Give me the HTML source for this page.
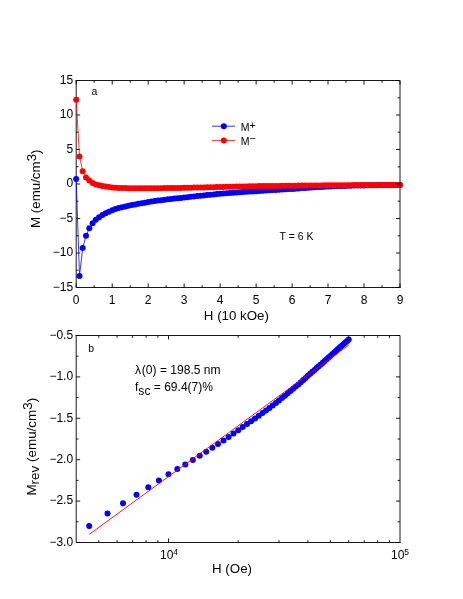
<!DOCTYPE html>
<html><head><meta charset="utf-8"><title>M vs H</title>
<style>
html,body{margin:0;padding:0;background:#fff;}
svg{display:block;will-change:transform;font-family:"Liberation Sans",sans-serif;fill:#000;}
.axl{fill:none;stroke:#000;stroke-width:0.9;}
.tk{font-size:12px;}
.ax{font-size:13.33px;}
.an{font-size:12.05px;}
.lg{font-size:10.5px;}
.sm{font-size:10.4px;}
</style></head><body>
<svg width="463" height="599" viewBox="0 0 463 599">
<rect width="463" height="599" fill="#fff"/>
<!-- panel a -->
<path d="M76.2 80.0V287.5H400.5M76.2 287.5v-4.0M94.2 287.5v-2.3M112.2 287.5v-4.0M130.2 287.5v-2.3M148.2 287.5v-4.0M166.1 287.5v-2.3M184.1 287.5v-4.0M202.1 287.5v-2.3M220.1 287.5v-4.0M238.1 287.5v-2.3M256.1 287.5v-4.0M274.1 287.5v-2.3M292.1 287.5v-4.0M310.1 287.5v-2.3M328.0 287.5v-4.0M346.0 287.5v-2.3M364.0 287.5v-4.0M382.0 287.5v-2.3M400.0 287.5v-4.0M76.2 80.5h4.0M76.2 97.8h2.3M76.2 115.0h4.0M76.2 132.2h2.3M76.2 149.5h4.0M76.2 166.8h2.3M76.2 184.0h4.0M76.2 201.2h2.3M76.2 218.5h4.0M76.2 235.8h2.3M76.2 253.0h4.0M76.2 270.2h2.3M76.2 287.5h4.0" class="axl"/>
<polyline points="76.2,179.0 79.5,275.9 82.7,248.1 86.0,235.8 89.3,228.3 92.6,223.2 95.8,219.8 99.1,217.2 102.4,215.1 105.6,213.3 108.9,211.7 112.2,210.3 115.4,209.1 118.7,208.1 122.0,207.2 125.3,206.4 128.5,205.7 131.8,205.1 135.1,204.4 138.3,203.8 141.6,203.2 144.9,202.7 148.2,202.1 151.4,201.6 154.7,201.1 158.0,200.6 161.2,200.2 164.5,199.8 167.8,199.3 171.1,199.0 174.3,198.6 177.6,198.2 180.9,197.9 184.1,197.5 187.4,197.2 190.7,196.8 193.9,196.5 197.2,196.1 200.5,195.8 203.8,195.4 207.0,195.1 210.3,194.7 213.6,194.4 216.8,194.0 220.1,193.7 223.4,193.4 226.7,193.2 229.9,193.0 233.2,192.7 236.5,192.5 239.7,192.3 243.0,192.1 246.3,191.8 249.5,191.6 252.8,191.4 256.1,191.2 259.4,191.0 262.6,190.8 265.9,190.5 269.2,190.3 272.4,190.1 275.7,189.9 279.0,189.7 282.3,189.5 285.5,189.3 288.8,189.1 292.1,188.9 295.3,188.7 298.6,188.4 301.9,188.1 305.1,187.9 308.4,187.7 311.7,187.4 315.0,187.2 318.2,187.0 321.5,186.9 324.8,186.7 328.0,186.6 331.3,186.4 334.6,186.3 337.9,186.1 341.1,186.0 344.4,185.9 347.7,185.8 350.9,185.7 354.2,185.6 357.5,185.5 360.8,185.4 364.0,185.4 367.3,185.3 370.6,185.3 373.8,185.2 377.1,185.2 380.4,185.1 383.6,185.1 386.9,185.1 390.2,185.0 393.5,185.0 396.7,185.0 400.0,185.0" fill="none" stroke="#0000ff" stroke-width="0.8"/>
<g fill="#0000ff"><circle cx="76.2" cy="179.0" r="3"/><circle cx="79.5" cy="275.9" r="3"/><circle cx="82.7" cy="248.1" r="3"/><circle cx="86.0" cy="235.8" r="3"/><circle cx="89.3" cy="228.3" r="3"/><circle cx="92.6" cy="223.2" r="3"/><circle cx="95.8" cy="219.8" r="3"/><circle cx="99.1" cy="217.2" r="3"/><circle cx="102.4" cy="215.1" r="3"/><circle cx="105.6" cy="213.3" r="3"/><circle cx="108.9" cy="211.7" r="3"/><circle cx="112.2" cy="210.3" r="3"/><circle cx="115.4" cy="209.1" r="3"/><circle cx="118.7" cy="208.1" r="3"/><circle cx="122.0" cy="207.2" r="3"/><circle cx="125.3" cy="206.4" r="3"/><circle cx="128.5" cy="205.7" r="3"/><circle cx="131.8" cy="205.1" r="3"/><circle cx="135.1" cy="204.4" r="3"/><circle cx="138.3" cy="203.8" r="3"/><circle cx="141.6" cy="203.2" r="3"/><circle cx="144.9" cy="202.7" r="3"/><circle cx="148.2" cy="202.1" r="3"/><circle cx="151.4" cy="201.6" r="3"/><circle cx="154.7" cy="201.1" r="3"/><circle cx="158.0" cy="200.6" r="3"/><circle cx="161.2" cy="200.2" r="3"/><circle cx="164.5" cy="199.8" r="3"/><circle cx="167.8" cy="199.3" r="3"/><circle cx="171.1" cy="199.0" r="3"/><circle cx="174.3" cy="198.6" r="3"/><circle cx="177.6" cy="198.2" r="3"/><circle cx="180.9" cy="197.9" r="3"/><circle cx="184.1" cy="197.5" r="3"/><circle cx="187.4" cy="197.2" r="3"/><circle cx="190.7" cy="196.8" r="3"/><circle cx="193.9" cy="196.5" r="3"/><circle cx="197.2" cy="196.1" r="3"/><circle cx="200.5" cy="195.8" r="3"/><circle cx="203.8" cy="195.4" r="3"/><circle cx="207.0" cy="195.1" r="3"/><circle cx="210.3" cy="194.7" r="3"/><circle cx="213.6" cy="194.4" r="3"/><circle cx="216.8" cy="194.0" r="3"/><circle cx="220.1" cy="193.7" r="3"/><circle cx="223.4" cy="193.4" r="3"/><circle cx="226.7" cy="193.2" r="3"/><circle cx="229.9" cy="193.0" r="3"/><circle cx="233.2" cy="192.7" r="3"/><circle cx="236.5" cy="192.5" r="3"/><circle cx="239.7" cy="192.3" r="3"/><circle cx="243.0" cy="192.1" r="3"/><circle cx="246.3" cy="191.8" r="3"/><circle cx="249.5" cy="191.6" r="3"/><circle cx="252.8" cy="191.4" r="3"/><circle cx="256.1" cy="191.2" r="3"/><circle cx="259.4" cy="191.0" r="3"/><circle cx="262.6" cy="190.8" r="3"/><circle cx="265.9" cy="190.5" r="3"/><circle cx="269.2" cy="190.3" r="3"/><circle cx="272.4" cy="190.1" r="3"/><circle cx="275.7" cy="189.9" r="3"/><circle cx="279.0" cy="189.7" r="3"/><circle cx="282.3" cy="189.5" r="3"/><circle cx="285.5" cy="189.3" r="3"/><circle cx="288.8" cy="189.1" r="3"/><circle cx="292.1" cy="188.9" r="3"/><circle cx="295.3" cy="188.7" r="3"/><circle cx="298.6" cy="188.4" r="3"/><circle cx="301.9" cy="188.1" r="3"/><circle cx="305.1" cy="187.9" r="3"/><circle cx="308.4" cy="187.7" r="3"/><circle cx="311.7" cy="187.4" r="3"/><circle cx="315.0" cy="187.2" r="3"/><circle cx="318.2" cy="187.0" r="3"/><circle cx="321.5" cy="186.9" r="3"/><circle cx="324.8" cy="186.7" r="3"/><circle cx="328.0" cy="186.6" r="3"/><circle cx="331.3" cy="186.4" r="3"/><circle cx="334.6" cy="186.3" r="3"/><circle cx="337.9" cy="186.1" r="3"/><circle cx="341.1" cy="186.0" r="3"/><circle cx="344.4" cy="185.9" r="3"/><circle cx="347.7" cy="185.8" r="3"/><circle cx="350.9" cy="185.7" r="3"/><circle cx="354.2" cy="185.6" r="3"/><circle cx="357.5" cy="185.5" r="3"/><circle cx="360.8" cy="185.4" r="3"/><circle cx="364.0" cy="185.4" r="3"/><circle cx="367.3" cy="185.3" r="3"/><circle cx="370.6" cy="185.3" r="3"/><circle cx="373.8" cy="185.2" r="3"/><circle cx="377.1" cy="185.2" r="3"/><circle cx="380.4" cy="185.1" r="3"/><circle cx="383.6" cy="185.1" r="3"/><circle cx="386.9" cy="185.1" r="3"/><circle cx="390.2" cy="185.0" r="3"/><circle cx="393.5" cy="185.0" r="3"/><circle cx="396.7" cy="185.0" r="3"/><circle cx="400.0" cy="185.0" r="3"/></g>
<polyline points="76.2,99.8 79.5,156.4 82.7,171.2 86.0,177.4 89.3,180.6 92.6,183.0 95.8,184.4 99.1,185.3 102.4,186.0 105.6,186.5 108.9,187.0 112.2,187.4 115.4,187.7 118.7,187.9 122.0,188.0 125.3,188.1 128.5,188.2 131.8,188.2 135.1,188.2 138.3,188.2 141.6,188.2 144.9,188.2 148.2,188.2 151.4,188.2 154.7,188.2 158.0,188.2 161.2,188.2 164.5,188.1 167.8,188.1 171.1,188.1 174.3,188.0 177.6,188.0 180.9,187.9 184.1,187.8 187.4,187.8 190.7,187.7 193.9,187.6 197.2,187.5 200.5,187.5 203.8,187.4 207.0,187.3 210.3,187.2 213.6,187.2 216.8,187.1 220.1,187.0 223.4,186.9 226.7,186.8 229.9,186.8 233.2,186.7 236.5,186.6 239.7,186.5 243.0,186.4 246.3,186.4 249.5,186.3 252.8,186.2 256.1,186.2 259.4,186.1 262.6,186.1 265.9,186.0 269.2,186.0 272.4,186.0 275.7,185.9 279.0,185.9 282.3,185.8 285.5,185.8 288.8,185.8 292.1,185.7 295.3,185.7 298.6,185.6 301.9,185.6 305.1,185.5 308.4,185.5 311.7,185.5 315.0,185.4 318.2,185.4 321.5,185.4 324.8,185.3 328.0,185.3 331.3,185.3 334.6,185.3 337.9,185.2 341.1,185.2 344.4,185.2 347.7,185.2 350.9,185.2 354.2,185.1 357.5,185.1 360.8,185.1 364.0,185.1 367.3,185.1 370.6,185.1 373.8,185.0 377.1,185.0 380.4,185.0 383.6,185.0 386.9,185.0 390.2,184.9 393.5,184.9 396.7,184.9 400.0,184.9" fill="none" stroke="#ff0000" stroke-width="0.8"/>
<g fill="#ff0000"><circle cx="76.2" cy="99.8" r="3"/><circle cx="79.5" cy="156.4" r="3"/><circle cx="82.7" cy="171.2" r="3"/><circle cx="86.0" cy="177.4" r="3"/><circle cx="89.3" cy="180.6" r="3"/><circle cx="92.6" cy="183.0" r="3"/><circle cx="95.8" cy="184.4" r="3"/><circle cx="99.1" cy="185.3" r="3"/><circle cx="102.4" cy="186.0" r="3"/><circle cx="105.6" cy="186.5" r="3"/><circle cx="108.9" cy="187.0" r="3"/><circle cx="112.2" cy="187.4" r="3"/><circle cx="115.4" cy="187.7" r="3"/><circle cx="118.7" cy="187.9" r="3"/><circle cx="122.0" cy="188.0" r="3"/><circle cx="125.3" cy="188.1" r="3"/><circle cx="128.5" cy="188.2" r="3"/><circle cx="131.8" cy="188.2" r="3"/><circle cx="135.1" cy="188.2" r="3"/><circle cx="138.3" cy="188.2" r="3"/><circle cx="141.6" cy="188.2" r="3"/><circle cx="144.9" cy="188.2" r="3"/><circle cx="148.2" cy="188.2" r="3"/><circle cx="151.4" cy="188.2" r="3"/><circle cx="154.7" cy="188.2" r="3"/><circle cx="158.0" cy="188.2" r="3"/><circle cx="161.2" cy="188.2" r="3"/><circle cx="164.5" cy="188.1" r="3"/><circle cx="167.8" cy="188.1" r="3"/><circle cx="171.1" cy="188.1" r="3"/><circle cx="174.3" cy="188.0" r="3"/><circle cx="177.6" cy="188.0" r="3"/><circle cx="180.9" cy="187.9" r="3"/><circle cx="184.1" cy="187.8" r="3"/><circle cx="187.4" cy="187.8" r="3"/><circle cx="190.7" cy="187.7" r="3"/><circle cx="193.9" cy="187.6" r="3"/><circle cx="197.2" cy="187.5" r="3"/><circle cx="200.5" cy="187.5" r="3"/><circle cx="203.8" cy="187.4" r="3"/><circle cx="207.0" cy="187.3" r="3"/><circle cx="210.3" cy="187.2" r="3"/><circle cx="213.6" cy="187.2" r="3"/><circle cx="216.8" cy="187.1" r="3"/><circle cx="220.1" cy="187.0" r="3"/><circle cx="223.4" cy="186.9" r="3"/><circle cx="226.7" cy="186.8" r="3"/><circle cx="229.9" cy="186.8" r="3"/><circle cx="233.2" cy="186.7" r="3"/><circle cx="236.5" cy="186.6" r="3"/><circle cx="239.7" cy="186.5" r="3"/><circle cx="243.0" cy="186.4" r="3"/><circle cx="246.3" cy="186.4" r="3"/><circle cx="249.5" cy="186.3" r="3"/><circle cx="252.8" cy="186.2" r="3"/><circle cx="256.1" cy="186.2" r="3"/><circle cx="259.4" cy="186.1" r="3"/><circle cx="262.6" cy="186.1" r="3"/><circle cx="265.9" cy="186.0" r="3"/><circle cx="269.2" cy="186.0" r="3"/><circle cx="272.4" cy="186.0" r="3"/><circle cx="275.7" cy="185.9" r="3"/><circle cx="279.0" cy="185.9" r="3"/><circle cx="282.3" cy="185.8" r="3"/><circle cx="285.5" cy="185.8" r="3"/><circle cx="288.8" cy="185.8" r="3"/><circle cx="292.1" cy="185.7" r="3"/><circle cx="295.3" cy="185.7" r="3"/><circle cx="298.6" cy="185.6" r="3"/><circle cx="301.9" cy="185.6" r="3"/><circle cx="305.1" cy="185.5" r="3"/><circle cx="308.4" cy="185.5" r="3"/><circle cx="311.7" cy="185.5" r="3"/><circle cx="315.0" cy="185.4" r="3"/><circle cx="318.2" cy="185.4" r="3"/><circle cx="321.5" cy="185.4" r="3"/><circle cx="324.8" cy="185.3" r="3"/><circle cx="328.0" cy="185.3" r="3"/><circle cx="331.3" cy="185.3" r="3"/><circle cx="334.6" cy="185.3" r="3"/><circle cx="337.9" cy="185.2" r="3"/><circle cx="341.1" cy="185.2" r="3"/><circle cx="344.4" cy="185.2" r="3"/><circle cx="347.7" cy="185.2" r="3"/><circle cx="350.9" cy="185.2" r="3"/><circle cx="354.2" cy="185.1" r="3"/><circle cx="357.5" cy="185.1" r="3"/><circle cx="360.8" cy="185.1" r="3"/><circle cx="364.0" cy="185.1" r="3"/><circle cx="367.3" cy="185.1" r="3"/><circle cx="370.6" cy="185.1" r="3"/><circle cx="373.8" cy="185.0" r="3"/><circle cx="377.1" cy="185.0" r="3"/><circle cx="380.4" cy="185.0" r="3"/><circle cx="383.6" cy="185.0" r="3"/><circle cx="386.9" cy="185.0" r="3"/><circle cx="390.2" cy="184.9" r="3"/><circle cx="393.5" cy="184.9" r="3"/><circle cx="396.7" cy="184.9" r="3"/><circle cx="400.0" cy="184.9" r="3"/></g>
<path d="M75.7 80.5H400.0V288.0M76.2 80.5v4.0M94.2 80.5v2.3M112.2 80.5v4.0M130.2 80.5v2.3M148.2 80.5v4.0M166.1 80.5v2.3M184.1 80.5v4.0M202.1 80.5v2.3M220.1 80.5v4.0M238.1 80.5v2.3M256.1 80.5v4.0M274.1 80.5v2.3M292.1 80.5v4.0M310.1 80.5v2.3M328.0 80.5v4.0M346.0 80.5v2.3M364.0 80.5v4.0M382.0 80.5v2.3M400.0 80.5v4.0M400.0 80.5h-4.0M400.0 97.8h-2.3M400.0 115.0h-4.0M400.0 132.2h-2.3M400.0 149.5h-4.0M400.0 166.8h-2.3M400.0 184.0h-4.0M400.0 201.2h-2.3M400.0 218.5h-4.0M400.0 235.8h-2.3M400.0 253.0h-4.0M400.0 270.2h-2.3M400.0 287.5h-4.0" class="axl"/>
<g class="tk" text-anchor="middle"><text x="76.2" y="303.9">0</text><text x="112.2" y="303.9">1</text><text x="148.2" y="303.9">2</text><text x="184.1" y="303.9">3</text><text x="220.1" y="303.9">4</text><text x="256.1" y="303.9">5</text><text x="292.1" y="303.9">6</text><text x="328.0" y="303.9">7</text><text x="364.0" y="303.9">8</text><text x="400.0" y="303.9">9</text></g>
<g class="tk" text-anchor="end"><text x="73.1" y="83.8">15</text><text x="73.1" y="118.3">10</text><text x="73.1" y="152.8">5</text><text x="73.1" y="187.3">0</text><text x="73.1" y="221.8">−5</text><text x="73.1" y="256.3">−10</text><text x="73.1" y="290.8">−15</text></g>
<text class="ax" text-anchor="middle" x="236.4" y="320">H (10 kOe)</text>
<text class="ax" transform="translate(40.2 228) rotate(-90)">M (emu/cm<tspan dy="-4">3</tspan><tspan dy="4">)</tspan></text>
<text class="sm" x="91.5" y="94.8">a</text>
<line x1="212" y1="126.2" x2="235" y2="126.2" stroke="#0000ff" stroke-width="0.8"/><circle cx="223.8" cy="126.2" r="3" fill="#0000ff"/>
<line x1="212" y1="140.6" x2="235" y2="140.6" stroke="#ff0000" stroke-width="0.8"/><circle cx="223.8" cy="140.6" r="3" fill="#ff0000"/>
<text class="lg" x="240.8" y="130.7">M<tspan dy="-1.8">+</tspan></text>
<text class="lg" x="240.8" y="145.1">M<tspan dy="-3.5">−</tspan></text>
<text class="lg" x="279.5" y="239.9">T = 6 K</text>
<!-- panel b -->
<path d="M76.2 335.0V542.5H400.5M76.2 335.5h4.0M76.2 356.2h2.3M76.2 376.9h4.0M76.2 397.6h2.3M76.2 418.3h4.0M76.2 439.0h2.3M76.2 459.7h4.0M76.2 480.4h2.3M76.2 501.1h4.0M76.2 521.8h2.3M76.2 542.5h4.0M98.8 542.5v-2.3M117.1 542.5v-2.3M132.6 542.5v-2.3M146.1 542.5v-2.3M157.9 542.5v-2.3M168.5 542.5v-4.0M238.2 542.5v-2.3M279.0 542.5v-2.3M307.9 542.5v-2.3M330.4 542.5v-2.3M348.7 542.5v-2.3M364.2 542.5v-2.3M377.7 542.5v-2.3M389.5 542.5v-2.3" class="axl"/>
<g fill="#0000ff"><circle cx="89.2" cy="525.9" r="3"/><circle cx="107.5" cy="513.6" r="3"/><circle cx="123.0" cy="503.3" r="3"/><circle cx="136.5" cy="494.8" r="3"/><circle cx="148.3" cy="487.2" r="3"/><circle cx="158.9" cy="480.4" r="3"/><circle cx="168.5" cy="474.3" r="3"/><circle cx="177.3" cy="469.1" r="3"/><circle cx="185.3" cy="464.4" r="3"/><circle cx="192.8" cy="460.0" r="3"/><circle cx="199.7" cy="455.8" r="3"/><circle cx="206.2" cy="451.7" r="3"/><circle cx="212.3" cy="447.8" r="3"/><circle cx="218.0" cy="444.0" r="3"/><circle cx="223.5" cy="440.4" r="3"/><circle cx="228.6" cy="436.9" r="3"/><circle cx="233.5" cy="433.5" r="3"/><circle cx="238.2" cy="430.2" r="3"/><circle cx="242.7" cy="427.1" r="3"/><circle cx="247.0" cy="424.1" r="3"/><circle cx="251.1" cy="421.2" r="3"/><circle cx="255.0" cy="418.4" r="3"/><circle cx="258.8" cy="415.7" r="3"/><circle cx="262.5" cy="413.1" r="3"/><circle cx="266.0" cy="410.5" r="3"/><circle cx="269.4" cy="408.0" r="3"/><circle cx="272.7" cy="405.5" r="3"/><circle cx="275.9" cy="403.0" r="3"/><circle cx="279.0" cy="400.5" r="3"/><circle cx="282.0" cy="398.0" r="3"/><circle cx="284.9" cy="395.7" r="3"/><circle cx="287.8" cy="393.3" r="3"/><circle cx="290.5" cy="391.0" r="3"/><circle cx="293.2" cy="388.8" r="3"/><circle cx="295.8" cy="386.6" r="3"/><circle cx="298.4" cy="384.4" r="3"/><circle cx="300.8" cy="382.2" r="3"/><circle cx="303.3" cy="380.0" r="3"/><circle cx="305.6" cy="377.9" r="3"/><circle cx="307.9" cy="375.8" r="3"/><circle cx="310.2" cy="373.8" r="3"/><circle cx="312.4" cy="371.8" r="3"/><circle cx="314.6" cy="369.9" r="3"/><circle cx="316.7" cy="368.0" r="3"/><circle cx="318.8" cy="366.2" r="3"/><circle cx="320.8" cy="364.4" r="3"/><circle cx="322.8" cy="362.7" r="3"/><circle cx="324.7" cy="360.9" r="3"/><circle cx="326.7" cy="359.2" r="3"/><circle cx="328.5" cy="357.6" r="3"/><circle cx="330.4" cy="355.9" r="3"/><circle cx="332.2" cy="354.3" r="3"/><circle cx="334.0" cy="352.7" r="3"/><circle cx="335.7" cy="351.2" r="3"/><circle cx="337.4" cy="349.6" r="3"/><circle cx="339.1" cy="348.1" r="3"/><circle cx="340.8" cy="346.6" r="3"/><circle cx="342.4" cy="345.2" r="3"/><circle cx="344.0" cy="343.8" r="3"/><circle cx="345.6" cy="342.3" r="3"/><circle cx="347.2" cy="340.9" r="3"/><circle cx="348.7" cy="339.6" r="3"/></g>
<line x1="89.1" y1="534.5" x2="349.0" y2="344.9" stroke="#ff0000" stroke-width="0.9"/>
<path d="M75.7 335.5H400.0V543.0M400.0 335.5h-4.0M400.0 356.2h-2.3M400.0 376.9h-4.0M400.0 397.6h-2.3M400.0 418.3h-4.0M400.0 439.0h-2.3M400.0 459.7h-4.0M400.0 480.4h-2.3M400.0 501.1h-4.0M400.0 521.8h-2.3M400.0 542.5h-4.0M98.8 335.5v2.3M117.1 335.5v2.3M132.6 335.5v2.3M146.1 335.5v2.3M157.9 335.5v2.3M168.5 335.5v4.0M238.2 335.5v2.3M279.0 335.5v2.3M307.9 335.5v2.3M330.4 335.5v2.3M348.7 335.5v2.3M364.2 335.5v2.3M377.7 335.5v2.3M389.5 335.5v2.3" class="axl"/>
<g class="tk" text-anchor="end"><text x="73.1" y="338.8">−0.5</text><text x="73.1" y="380.2">−1.0</text><text x="73.1" y="421.6">−1.5</text><text x="73.1" y="463.0">−2.0</text><text x="73.1" y="504.4">−2.5</text><text x="73.1" y="545.8">−3.0</text></g>
<text class="tk" x="160" y="559.4">10<tspan dy="-4" font-size="8.5px">4</tspan></text>
<text class="tk" x="391" y="559.4">10<tspan dy="-4" font-size="8.5px">5</tspan></text>
<text class="ax" text-anchor="middle" x="232" y="573.2">H (Oe)</text>
<text class="ax" style="font-size:13.45px" transform="translate(36.2 495.6) rotate(-90)">M<tspan dy="2.8">rev</tspan><tspan dy="-2.8"> (emu/cm</tspan><tspan dy="-4">3</tspan><tspan dy="4">)</tspan></text>
<text class="sm" x="88.2" y="351.8">b</text>
<text class="an" x="135" y="374.4">λ<tspan dx="0.8">(0) = 198.5 nm</tspan></text>
<text class="an" x="135" y="390.6">f<tspan dy="4">sc</tspan><tspan dy="-4"> = 69.4(7)%</tspan></text>
</svg>
</body></html>
